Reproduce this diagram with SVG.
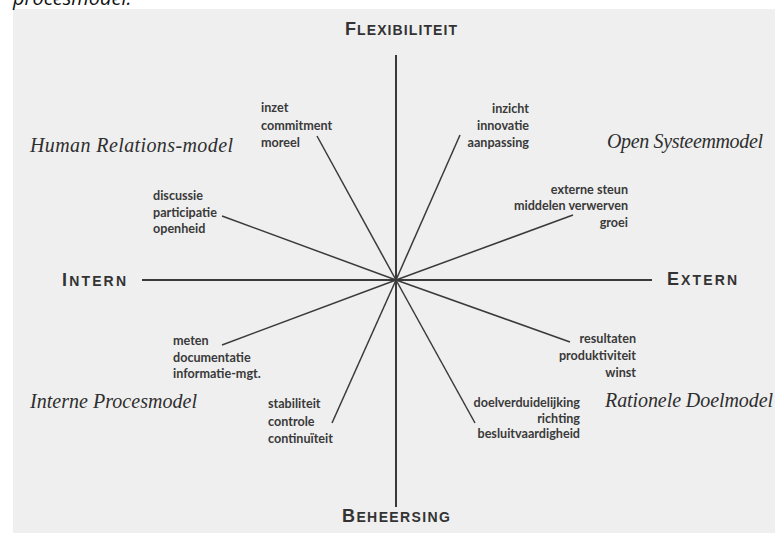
<svg xmlns="http://www.w3.org/2000/svg" width="775" height="533" viewBox="0 0 775 533">
<style>
.axis{stroke:#3a3a3a;stroke-width:2;fill:none}
.spoke{stroke:#3a3a3a;stroke-width:1.5;fill:none}
.head{font-family:"Liberation Sans",Arial,sans-serif;font-weight:bold;fill:#333}
.big{font-size:18px}
.sc{font-size:14px}
.model{font-family:"Liberation Serif","Times New Roman",serif;font-style:italic;font-size:20px;fill:#2e2e2e}
.lbl{font-family:Lato,"Liberation Sans",sans-serif;font-weight:bold;font-size:12.6px;fill:#3a3a3a}
.r{text-anchor:end}
</style>
<rect x="0" y="0" width="775" height="533" fill="#ffffff"/>
<rect x="13" y="9" width="762" height="524" fill="#efefef"/>
<text x="13" y="5" font-family="'Open Sans','Liberation Sans',sans-serif" font-style="italic" font-size="20" fill="#111">procesmodel.</text>

<g id="connectors">
  <line class="axis" x1="396" y1="55" x2="396" y2="507"/>
  <line class="axis" x1="142" y1="280" x2="652" y2="280"/>
  <line class="spoke" x1="396" y1="280" x2="317" y2="136"/>
  <line class="spoke" x1="396" y1="280" x2="222" y2="216"/>
  <line class="spoke" x1="396" y1="280" x2="460" y2="135"/>
  <line class="spoke" x1="396" y1="280" x2="573" y2="215"/>
  <line class="spoke" x1="396" y1="280" x2="222" y2="345"/>
  <line class="spoke" x1="396" y1="280" x2="332" y2="423"/>
  <line class="spoke" x1="396" y1="280" x2="570" y2="342"/>
  <line class="spoke" x1="396" y1="280" x2="475" y2="423"/>
</g>

<g id="flexibiliteit"><text class="head" x="345" y="35" textLength="112"><tspan class="big">F</tspan><tspan class="sc">LEXIBILITEIT</tspan></text></g>
<g id="intern"><text class="head" x="62" y="286" textLength="64"><tspan class="big">I</tspan><tspan class="sc">NTERN</tspan></text></g>
<g id="extern"><text class="head" x="667" y="285" textLength="70"><tspan class="big">E</tspan><tspan class="sc">XTERN</tspan></text></g>
<g id="beheersing"><text class="head" x="342" y="522" textLength="108"><tspan class="big">B</tspan><tspan class="sc">EHEERSING</tspan></text></g>

<g id="human-relations"><text class="model" x="30" y="152" textLength="203">Human Relations-model</text></g>
<g id="open-systeem"><text class="model" x="607" y="148" textLength="156">Open Systeemmodel</text></g>
<g id="interne-proces"><text class="model" x="30" y="408" textLength="167">Interne Procesmodel</text></g>
<g id="rationele-doel"><text class="model" x="605" y="407" textLength="168">Rationele Doelmodel</text></g>

<g id="inzet"><text class="lbl" x="261"><tspan x="261" y="112">inzet</tspan><tspan x="261" y="130">commitment</tspan><tspan x="261" y="147">moreel</tspan></text></g>
<g id="discussie"><text class="lbl" x="153"><tspan x="153" y="200">discussie</tspan><tspan x="153" y="217">participatie</tspan><tspan x="153" y="233">openheid</tspan></text></g>
<g id="inzicht"><text class="lbl r" x="529"><tspan x="529" y="113">inzicht</tspan><tspan x="529" y="130">innovatie</tspan><tspan x="529" y="147">aanpassing</tspan></text></g>
<g id="externe-steun"><text class="lbl r" x="628"><tspan x="628" y="194">externe steun</tspan><tspan x="628" y="210">middelen verwerven</tspan><tspan x="628" y="227">groei</tspan></text></g>
<g id="meten"><text class="lbl" x="173"><tspan x="173" y="345">meten</tspan><tspan x="173" y="362">documentatie</tspan><tspan x="173" y="378">informatie-mgt.</tspan></text></g>
<g id="stabiliteit"><text class="lbl" x="268"><tspan x="268" y="408">stabiliteit</tspan><tspan x="268" y="426">controle</tspan><tspan x="268" y="443">continuïteit</tspan></text></g>
<g id="resultaten"><text class="lbl r" x="636"><tspan x="636" y="343">resultaten</tspan><tspan x="636" y="360">produktiviteit</tspan><tspan x="636" y="377">winst</tspan></text></g>
<g id="doelverduidelijking"><text class="lbl r" x="580"><tspan x="580" y="407">doelverduidelijking</tspan><tspan x="580" y="423">richting</tspan><tspan x="580" y="438">besluitvaardigheid</tspan></text></g>
</svg>
